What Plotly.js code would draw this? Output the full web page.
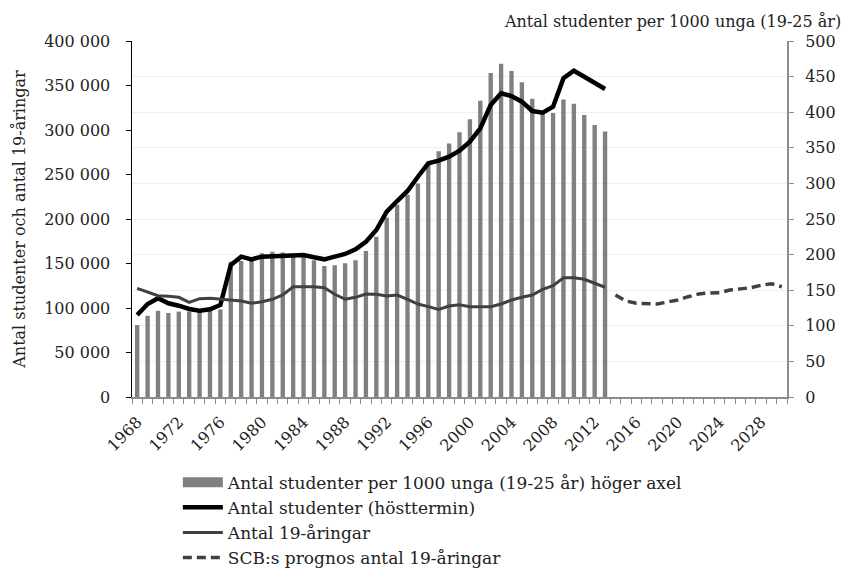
<!DOCTYPE html>
<html>
<head>
<meta charset="utf-8">
<script src="https://cdn.plot.ly/plotly-3.0.1.min.js"></script>
<style>html,body{margin:0;padding:0;background:#fff}#chart{width:852px;height:570px}</style>
</head>
<body>
<div id="chart"></div>
<script>
const barYears = [1968,1969,1970,1971,1972,1973,1974,1975,1976,1977,1978,1979,1980,1981,1982,1983,1984,1985,1986,1987,1988,1989,1990,1991,1992,1993,1994,1995,1996,1997,1998,1999,2000,2001,2002,2003,2004,2005,2006,2007,2008,2009,2010,2011,2012,2013];
const perThousand = [101,114,121,118,120,120,120,121,123,190,191,196,202,204,203,201,197,192,184,185,188,192,205,225,252,270,284,300,329,345,356,372,390,416,455,468,458,442,419,400,399,418,412,396,382,373];
const students = [92100,104500,110900,105300,102600,98900,97000,98500,103400,148300,157700,154700,157700,158400,158400,159200,159600,157000,154700,157700,160700,166000,174500,187600,208200,220200,231500,247500,262600,265500,270000,276800,286900,301900,328100,341200,338200,331800,321300,319400,326200,358100,366600,359900,353200,346100];
const nineteen = [122100,118000,113800,113100,112000,106400,110500,110900,109800,108200,107900,105300,107100,109800,114600,123900,123900,123900,122800,115400,109800,112000,115700,115400,113500,114600,109800,104500,101500,98500,102200,103700,101500,101500,101500,104500,109000,112000,114600,121000,125100,134000,134000,132300,127800,123300];
const progYears = [2014,2015,2016,2017,2018,2019,2020,2021,2022,2023,2024,2025,2026,2027,2028,2029,2030];
const prognos = [114600,107900,105300,104500,104500,106700,109000,112700,115700,116900,117200,120200,121700,122800,125500,127300,123900];
const xTickVals = [1968,1972,1976,1980,1984,1988,1992,1996,2000,2004,2008,2012,2016,2020,2024,2028];
const leftTicks = [0,50000,100000,150000,200000,250000,300000,350000,400000];
const leftTickText = ["0","50 000","100 000","150 000","200 000","250 000","300 000","350 000","400 000"];

const FONT = "DejaVu Serif, serif";
const TXT = '#222';
const traces = [
  {type:'scatter', mode:'lines', x:[null], y:[null], yaxis:'y',
   line:{color:'#808080', width:12}, name:'Antal studenter per 1000 unga (19-25 år) höger axel'},
  {type:'bar', x:barYears, y:perThousand, yaxis:'y', width:0.42, showlegend:false,
   marker:{color:'#808080'}, name:'Antal studenter per 1000 unga (19-25 år) höger axel'},
  {type:'scatter', mode:'lines', x:barYears, y:students, yaxis:'y2',
   line:{color:'#000000', width:4.5}, name:'Antal studenter (hösttermin)'},
  {type:'scatter', mode:'lines', x:barYears, y:nineteen, yaxis:'y2',
   line:{color:'#404040', width:3}, name:'Antal 19-åringar'},
  {type:'scatter', mode:'lines', x:progYears, y:prognos, yaxis:'y2',
   line:{color:'#404040', width:3.5, dash:'9px,5px'}, name:'SCB:s prognos antal 19-åringar'}
];

const layout = {
  width:852, height:570,
  margin:{l:132, r:65, t:41, b:173, autoexpand:false},
  paper_bgcolor:'#fff', plot_bgcolor:'#fff',
  font:{family:FONT, size:16, color:TXT},
  showlegend:true,
  legend:{x:0.07, xanchor:'left', y:-0.19, yanchor:'top', bgcolor:'rgba(0,0,0,0)',
          font:{family:FONT, size:17, color:TXT}, tracegroupgap:0, itemwidth:40},
  xaxis:{type:'linear', range:[1967.5,2030.5], tickmode:'array', tickvals:xTickVals,
         tickangle:-45, ticks:'outside', ticklen:0, tickcolor:'rgba(0,0,0,0)',
         showline:true, linecolor:'#8c8c8c', linewidth:1.5, showgrid:false, zeroline:false,
         ticklabelstandoff:8,
         minor:{tick0:1967.5, dtick:1, ticks:'outside', ticklen:5, tickcolor:'#8c8c8c', showgrid:false},
         tickfont:{family:FONT, size:16, color:TXT}},
  yaxis:{range:[0,500], dtick:50, side:'right', showline:true, linecolor:'#8c8c8c', linewidth:2,
         ticks:'outside', ticklen:5, tickcolor:'#8c8c8c', showgrid:true, gridcolor:'#efefef',
         ticklabelstandoff:8,
         zeroline:false, tickfont:{family:FONT, size:16, color:TXT}},
  yaxis2:{overlaying:'y', side:'left', range:[0,400000], tickmode:'array', tickvals:leftTicks, ticktext:leftTickText,
          showline:true, linecolor:'#000', linewidth:1.5, ticks:'outside', ticklen:5, tickcolor:'#000',
          ticklabelstandoff:12,
          showgrid:false, zeroline:false, tickfont:{family:FONT, size:16, color:TXT},
          title:{text:'Antal studenter och antal 19-åringar', font:{family:FONT, size:16, color:TXT}, standoff:14}},
  annotations:[{xref:'paper', yref:'paper', x:1.085, y:1.0, xanchor:'right', yanchor:'bottom', yshift:8,
                showarrow:false, text:'Antal studenter per 1000 unga (19-25 år)',
                font:{family:FONT, size:16, color:TXT}}]
};
Plotly.newPlot('chart', traces, layout, {displayModeBar:false, staticPlot:true});
</script>
</body>
</html>
